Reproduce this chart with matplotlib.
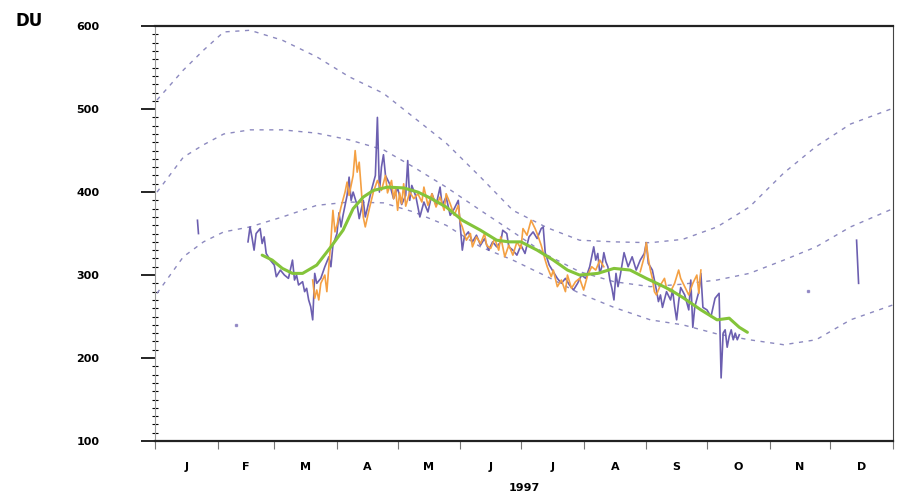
import numpy as np
import matplotlib
matplotlib.use('Agg')
import matplotlib.pyplot as plt

# Total ozone column, 1997 (day of year -> Dobson units)
MONTHS = ['J', 'F', 'M', 'A', 'M', 'J', 'J', 'A', 'S', 'O', 'N', 'D']
MONTH_START = [0, 31, 59, 90, 120, 151, 181, 212, 243, 273, 304, 334, 365]

# climatology envelope: maximum, mean, minimum
clim_day = [1, 14, 24, 34, 47, 63, 80, 96, 113, 128, 144, 161, 177, 194,
            210, 227, 245, 261, 278, 294, 311, 327, 344, 365]
clim_max = [511, 547, 571, 593, 595, 583, 563, 539, 519, 490, 459, 418, 378, 357,
            342, 340, 339, 343, 358, 382, 423, 455, 482, 501]
clim_mean = [400, 442, 457, 470, 475, 475, 471, 463, 451, 430, 406, 378, 352, 324,
             304, 292, 286, 289, 294, 302, 318, 334, 358, 380]
clim_min = [278, 322, 340, 352, 358, 370, 384, 388, 387, 376, 360, 334, 318, 298,
            278, 261, 246, 240, 229, 222, 216, 222, 246, 264]

# daily values, instrument A (purple); NaN marks a gap
a_day = [21, 21.5, np.nan,
         46, 47, 48, 49, 50, 52, 53, 54, 55, 57, 59, 60, 62, 64, 66, 68, 69, 70,
         71, 73, 74, 75, 76, 77, 78, 79, 80, 82, 84, 86, 87, 88, 90, 91, 92, 93,
         95, 96, 97, 98, 100, 101, 103, 104, 105, 107, 109, 110, 111, 112, 113, 114,
         116, 118, 120, 122, 124, 125, 126, 127, 129, 131, 133, 135, 137, 139, 141,
         142, 144, 146, 148, 150, 151, 152, 153, 155, 157, 159, 161, 163, 165, 167,
         169, 171, 172, 174, 175, 177, 179, 181, 183, 185, 187, 189, 191, 192, 193,
         195, 197, 199, 201, 203, 205, 207, 209, 211, 213, 215, 217, 218, 219, 220,
         221, 222, 223, 224, 225, 226, 227, 228, 229, 230, 232, 234, 236, 238, 240,
         242, 243, 244, 246, 248, 249, 250, 251, 253, 255, 256, 257, 258, 259, 260,
         262, 264, 265, 266, 267, 269, 270, 271, 273, 275, 277, 279, 280, 281, 282,
         283, 284, 285, 286, 287, 288, 289, np.nan,
         347, 348]
a_val = [366, 350, np.nan,
         340, 358, 345, 330, 350, 356, 338, 346, 326, 318, 312, 298, 306, 300, 296, 318, 294, 300,
         288, 292, 280, 284, 270, 262, 246, 302, 290, 296, 310, 322, 310, 336, 350, 375, 358, 372,
         396, 418, 390, 400, 384, 368, 390, 370, 380, 402, 420, 490, 400, 430, 445, 420,
         410, 392, 405, 385, 396, 438, 390, 408, 395, 370, 388, 376, 398, 384, 406,
         384, 394, 372, 380, 390, 358, 330, 346, 352, 340, 348, 336, 344, 330, 340,
         334, 340, 354, 350, 334, 330, 324, 336, 326, 346, 352, 344, 356, 358, 327,
         312, 304, 296, 290, 296, 288, 282, 290, 300, 296, 310, 334, 318, 326, 302,
         310, 327, 316, 310, 294, 284, 270, 302, 286, 298, 327, 310, 322, 306, 318,
         326, 339, 314, 306, 282, 268, 276, 261, 280, 270, 282, 262, 246, 268, 285,
         276, 258, 294, 237, 262, 280, 302, 261, 258, 250, 272, 278, 176, 230, 234,
         213, 226, 234, 222, 230, 222, 228, np.nan,
         342, 290]

# single isolated readings of instrument A
a_spot_day = [40, 323]
a_spot_val = [240, 281]

# daily values, instrument B (orange)
b_day = [78, 79, 80, 81, 82, 84, 85, 87, 88, 89, 90, 92, 94, 95, 96, 98, 99, 100,
         101, 102, 103, 104, 106, 108, 110, 112, 114, 115, 117, 118, 119, 120, 121,
         122, 123, 124, 126, 128, 130, 132, 133, 135, 137, 139, 141, 143, 144, 146,
         148, 150, 151, 152, 154, 156, 157, 159, 161, 163, 164, 166, 168, 170, 171,
         173, 175, 177, 179, 181, 182, 184, 186, 188, 189, 191, 193, 194, 196, 197,
         199, 201, 203, 204, 206, 208, 210, 212, 214, 216, 218, 220, 222, np.nan,
         240, 242, 243, 244, 245, 246, 247, 248, 250, 252, 253, 255, 257, 259, 260,
         262, 264, 266, 268, 269, 270]
b_val = [294, 272, 282, 270, 290, 300, 280, 342, 378, 352, 360, 382, 400, 412, 396, 420, 450, 424,
         436, 404, 370, 358, 380, 400, 414, 402, 420, 399, 414, 392, 404, 378, 399,
         386, 410, 383, 400, 392, 398, 388, 406, 384, 398, 382, 394, 378, 398, 386,
         372, 384, 364, 358, 342, 350, 334, 346, 338, 350, 336, 332, 344, 330, 346,
         322, 336, 324, 340, 332, 356, 348, 366, 356, 350, 336, 318, 310, 298, 306,
         286, 294, 280, 300, 284, 292, 296, 282, 300, 310, 306, 318, 310, np.nan,
         304, 322, 339, 320, 306, 296, 280, 276, 288, 296, 284, 280, 290, 306, 296,
         286, 276, 290, 300, 278, 306]

# smoothed running mean (green)
s_day = [53, 58, 63, 68, 73, 80, 87, 93, 98, 103, 108, 115, 123, 130, 136, 144,
         152, 161, 169, 175, 181, 189, 197, 204, 210, 219, 227, 235, 243, 250, 255,
         261, 270, 278, 284, 289, 293]
s_val = [324, 318, 308, 302, 302, 312, 334, 354, 380, 394, 402, 406, 405, 400, 393, 382,
         366, 354, 342, 340, 340, 330, 318, 306, 300, 302, 308, 306, 296, 288, 282,
         273, 258, 246, 248, 237, 231]

PURPLE = '#6c5fb0'
ORANGE = '#f4a043'
GREEN = '#84c43a'
DASH = '#8c89bf'

fig = plt.figure(figsize=(8.97, 4.93), dpi=100)
ax = fig.add_axes([0.1728, 0.1055, 0.8227, 0.8415])

for curve in (clim_max, clim_mean, clim_min):
    ax.plot(clim_day, curve, color=DASH, lw=1.0, linestyle=(0, (3, 4)))

ax.plot(a_day, a_val, color=PURPLE, lw=1.2)
ax.plot(b_day, b_val, color=ORANGE, lw=1.2)
ax.plot(a_spot_day, a_spot_val, 's', color=PURPLE, ms=2, alpha=0.6)
ax.plot(s_day, s_val, color=GREEN, lw=2.2, solid_capstyle='round')

ax.set_xlim(0, 365)
ax.set_ylim(100, 600)

# y axis: major every 100, minor every 10
ax.set_yticks(range(100, 601, 100))
ax.set_yticks(range(100, 601, 10), minor=True)
ax.tick_params(axis='y', which='major', direction='out', length=10, width=1.2,
               pad=30, labelsize=8)
ax.tick_params(axis='y', which='minor', direction='inout', length=4, width=0.8)
for lab in ax.get_yticklabels():
    lab.set_fontweight('bold')

# x axis: month boundaries ticked, letters centred in each month
ax.set_xticks(MONTH_START)
ax.set_xticklabels([''] * len(MONTH_START))
centres = [(MONTH_START[i] + MONTH_START[i + 1]) / 2 for i in range(12)]
ax.set_xticks(centres, minor=True)
ax.set_xticklabels(MONTHS, minor=True, fontweight='bold', fontsize=8)
ax.tick_params(axis='x', which='major', direction='out', length=6, width=0.8, color='#777777')
ax.tick_params(axis='x', which='minor', length=0, pad=15)
ax.set_xlabel('1997', fontsize=8, fontweight='bold', labelpad=8)

for side in ('top', 'bottom'):
    ax.spines[side].set_linewidth(1.6)
    ax.spines[side].set_color('#222222')
ax.spines['left'].set_color('#999999')
ax.spines['right'].set_color('#444444')

fig.text(0.032, 0.958, 'DU', fontsize=12, fontweight='bold', ha='center', va='center')

fig.savefig('out.png', dpi=100)
